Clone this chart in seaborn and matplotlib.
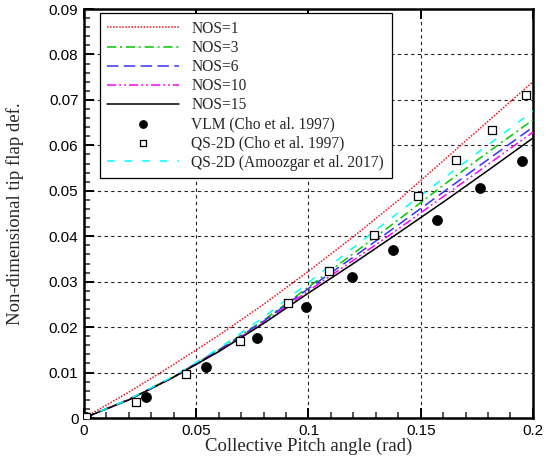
import matplotlib
matplotlib.use("Agg")
import matplotlib.pyplot as plt
from matplotlib.ticker import MultipleLocator, FuncFormatter
import seaborn as sns
import pandas as pd

# ---- data ----
pitch = [0, 0.02, 0.04, 0.06, 0.08, 0.10, 0.12, 0.14, 0.16, 0.18, 0.20]
nos1 = [0, 0.0057, 0.0118, 0.0182, 0.0250, 0.0323, 0.0399, 0.0479, 0.0566, 0.0653, 0.0740]
nos3 = [0, 0.0041, 0.0091, 0.0150, 0.0215, 0.0288, 0.0362, 0.0436, 0.0512, 0.0585, 0.0656]
nos6 = [0, 0.0041, 0.0091, 0.0149, 0.0213, 0.0285, 0.0354, 0.0425, 0.0497, 0.0569, 0.0640]
nos10 = [0, 0.0040, 0.0090, 0.0147, 0.0210, 0.0280, 0.0347, 0.0416, 0.0487, 0.0558, 0.0629]
nos15 = [0, 0.0040, 0.0090, 0.0146, 0.0208, 0.0275, 0.0340, 0.0407, 0.0475, 0.0545, 0.0616]
qs2d_amoozgar = [0, 0.0041, 0.0092, 0.0153, 0.0222, 0.0298, 0.0375, 0.0452, 0.0527, 0.0601, 0.0675]

vlm_x = [0.001, 0.0276, 0.0542, 0.0769, 0.0987, 0.1196, 0.1378, 0.1573, 0.1764, 0.1951]
vlm_y = [0.0003, 0.0046, 0.0112, 0.0176, 0.0244, 0.0310, 0.0370, 0.0436, 0.0507, 0.0566]

qs_cho_x = [0.001, 0.0231, 0.0453, 0.0693, 0.0909, 0.1093, 0.1292, 0.1489, 0.1659, 0.1819, 0.1969]
qs_cho_y = [0.0002, 0.0036, 0.0096, 0.0170, 0.0252, 0.0324, 0.0403, 0.0489, 0.0567, 0.0634, 0.0710]

x_ticks = [0, 0.05, 0.1, 0.15, 0.2]
y_ticks = [0, 0.01, 0.02, 0.03, 0.04, 0.05, 0.06, 0.07, 0.08, 0.09]

sns.set_style("ticks")
plt.rcParams["font.family"] = ["Liberation Serif", "DejaVu Serif"]

fig = plt.figure(figsize=(5.54, 4.62), dpi=100)
ax = fig.add_axes([0.1516, 0.0952, 0.8104, 0.8853])

lines = [
    ("NOS=1", nos1, "#e8141e", (0, (1.0, 1.0)), 1.1),
    ("NOS=3", nos3, "#00c800", (0, (6, 2.5, 1.3, 2.5)), 1.1),
    ("NOS=6", nos6, "#3333ff", (0, (7.5, 3.5)), 1.1),
    ("NOS=10", nos10, "#ff00ff", (0, (6, 2, 1.2, 2, 1.2, 2)), 1.1),
    ("NOS=15", nos15, "black", "solid", 1.1),
    ("QS-2D (Amoozgar et al. 2017)", qs2d_amoozgar, "#00ffff", (0, (5, 6.5)), 1.1),
]
for label, yv, col, ls, lw in lines:
    df = pd.DataFrame({"x": pitch, "y": yv})
    sns.lineplot(data=df, x="x", y="y", color=col, linestyle=ls, linewidth=lw,
                 label=label, ax=ax, sort=False, zorder=3)

sns.scatterplot(x=vlm_x, y=vlm_y, marker="o", s=52, color="black",
                edgecolor="black", linewidth=0.5, label="VLM (Cho et al. 1997)",
                ax=ax, zorder=4)
sns.scatterplot(x=qs_cho_x, y=qs_cho_y, marker="s", s=34, facecolor="white",
                edgecolor="black", linewidth=0.9, label="QS-2D (Cho et al. 1997)",
                ax=ax, zorder=4)

ax.set_xlim(0, 0.2)
ax.set_ylim(0, 0.09)
ax.set_xticks(x_ticks)
ax.set_yticks(y_ticks)
ax.xaxis.set_minor_locator(MultipleLocator(0.01))
ax.yaxis.set_minor_locator(MultipleLocator(0.002))
fmt = FuncFormatter(lambda v, p: "%g" % round(v, 4))
ax.xaxis.set_major_formatter(fmt)
ax.yaxis.set_major_formatter(fmt)

for lab in ax.get_xticklabels() + ax.get_yticklabels():
    lab.set_family(["Liberation Sans", "DejaVu Sans"])
    lab.set_fontsize(11)

ax.tick_params(which="major", direction="in", length=7.5, width=1.4,
               top=True, right=False, pad=4, colors="black")
ax.tick_params(which="minor", direction="in", length=4.2, width=1.1,
               top=False, right=False)
for sp in ax.spines.values():
    sp.set_visible(True)
    sp.set_linewidth(1.8)
    sp.set_color("black")

ax.grid(True, which="major", color="#222222", linestyle=(0, (3, 3)), linewidth=0.8)
ax.set_axisbelow(True)

ax.set_xlabel("Collective Pitch angle (rad)", fontsize=13.5, labelpad=0)
ax.set_ylabel("Non-dimensional tip flap def.", fontsize=13.5, labelpad=18)

handles, labels = ax.get_legend_handles_labels()
order = ["NOS=1", "NOS=3", "NOS=6", "NOS=10", "NOS=15", "VLM (Cho et al. 1997)",
         "QS-2D (Cho et al. 1997)", "QS-2D (Amoozgar et al. 2017)"]
hmap = dict(zip(labels, handles))
leg = ax.legend([hmap[k] for k in order], order, loc="upper left",
                bbox_to_anchor=(0.035, 0.99), borderaxespad=0, fontsize=11.2,
                handlelength=4.6, handletextpad=0.8, labelspacing=0.2,
                frameon=True, fancybox=False, framealpha=1, edgecolor="black",
                borderpad=0.5, scatterpoints=1, markerscale=0.8)
leg.get_frame().set_linewidth(0.9)

fig.savefig("out.png", dpi=100)
